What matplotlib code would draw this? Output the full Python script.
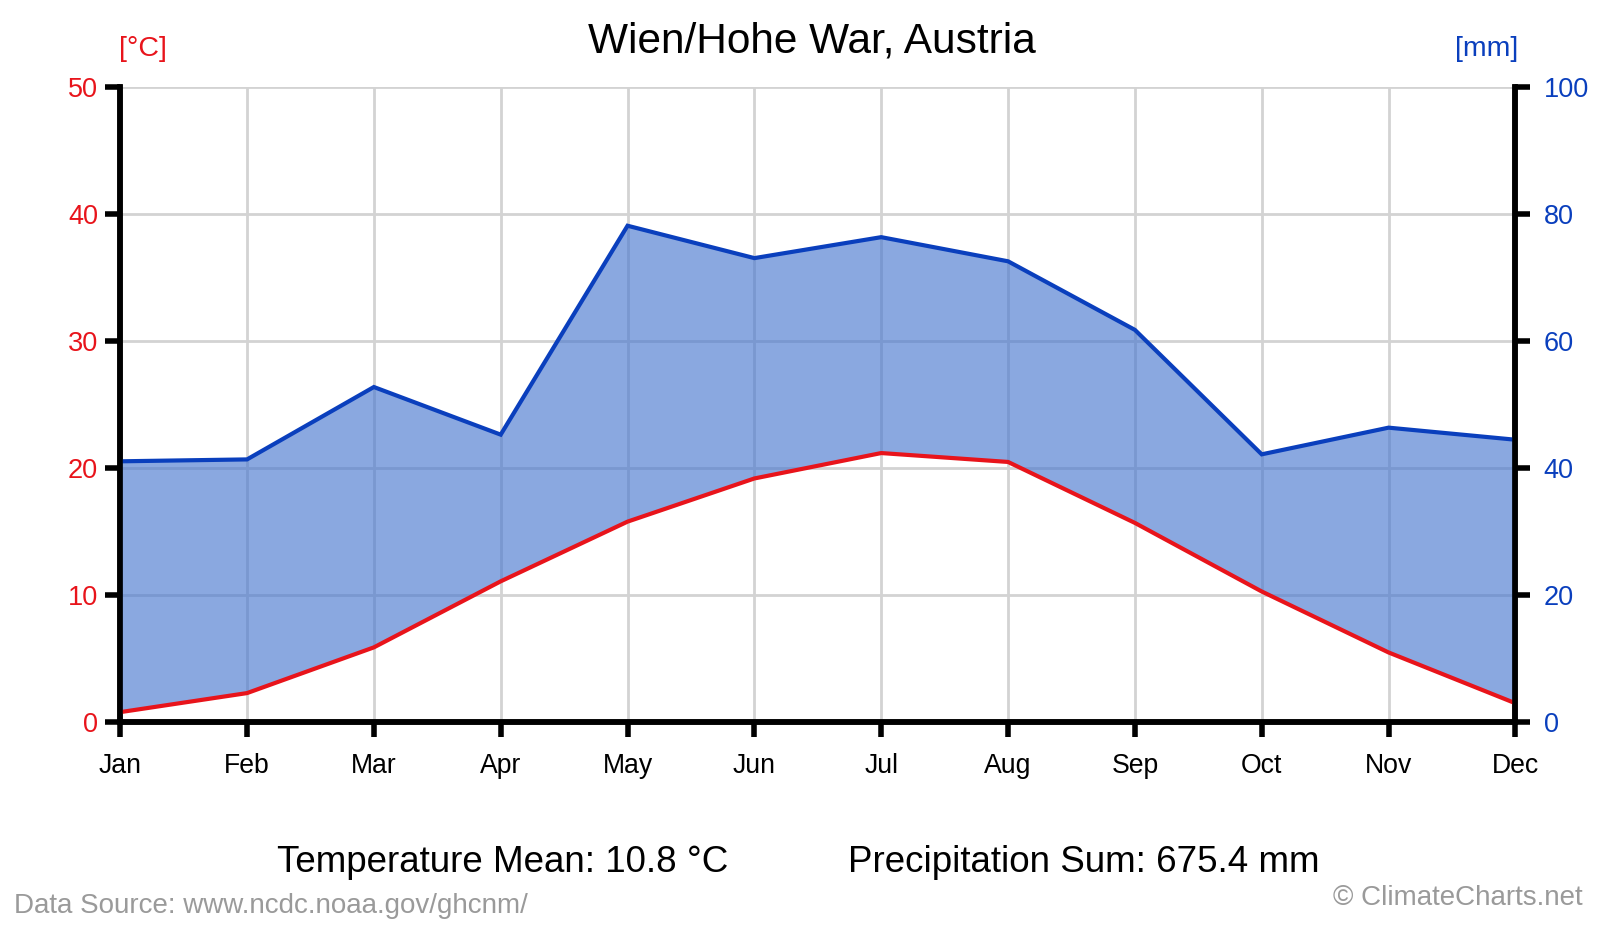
import matplotlib
matplotlib.use("Agg")
import matplotlib.pyplot as plt
import numpy as np

plt.rcParams['font.family'] = ['Liberation Sans', 'DejaVu Sans']

months = ["Jan", "Feb", "Mar", "Apr", "May", "Jun", "Jul", "Aug", "Sep", "Oct", "Nov", "Dec"]
temperature = [0.8, 2.3, 5.9, 11.1, 15.8, 19.2, 21.2, 20.5, 15.7, 10.3, 5.5, 1.5]
precipitation = [41.1, 41.4, 52.8, 45.3, 78.2, 73.1, 76.4, 72.6, 61.8, 42.2, 46.4, 44.5]
temp_ticks = [0, 10, 20, 30, 40, 50]
prec_ticks = [0, 20, 40, 60, 80, 100]
title = "Wien/Hohe War, Austria"
temp_mean_text = "Temperature Mean: 10.8 °C"
prec_sum_text = "Precipitation Sum: 675.4 mm"

RED = "#e8141b"
BLUE = "#0a3fbd"
FILL = (72/255, 119/255, 207/255, 0.64)
GRID = "#d3d3d3"

W, H = 1611, 930
fig = plt.figure(figsize=(W/100, H/100), dpi=100)
left, right, top, bottom = 120.2, 1515.4, 87.3, 722.3
ax = fig.add_axes([left/W, 1 - bottom/H, (right-left)/W, (bottom-top)/H])
ax2 = ax.twinx()

x = np.arange(len(months))
ax.set_xlim(0, len(months) - 1)
ax.set_ylim(0, 50)
ax2.set_ylim(0, 100)

ax.set_xticks(x)
ax.set_xticklabels(months)
ax.set_yticks(temp_ticks)
ax2.set_yticks(prec_ticks)

ax.grid(True, color=GRID, linewidth=2)
ax.set_axisbelow(True)

# fill between scaled temperature and precipitation (on precip axis)
t2 = [2 * t for t in temperature]
ax2.fill_between(x, t2, precipitation, color=FILL, linewidth=0, zorder=1)
ax2.plot(x, precipitation, color=BLUE, linewidth=3, zorder=3, solid_joinstyle='miter')
ax2.plot(x, t2, color=RED, linewidth=3, zorder=3, solid_joinstyle='miter')

for a in (ax, ax2):
    a.spines['top'].set_visible(False)
    for s in ('left', 'right', 'bottom'):
        a.spines[s].set_linewidth(4)
        a.spines[s].set_color('black')
        a.spines[s].set_zorder(5)

ax.tick_params(axis='y', labelsize=19.5, length=11, width=4, pad=5, direction='out', color='black')
ax.tick_params(axis='x', labelsize=19.2, length=11, width=4, pad=11, colors='black')
ax2.tick_params(axis='y', labelsize=19.5, length=11, width=4, pad=9.5, direction='out', color='black')
for lab in ax.get_yticklabels():
    lab.set_color(RED)
for lab in ax2.get_yticklabels():
    lab.set_color(BLUE)

fig.text(812/W, 1 - 41/H, title, ha='center', va='center', fontsize=30.5, color='black')
fig.text(143/W, 1 - 49/H, "[°C]", ha='center', va='center', fontsize=20.5, color=RED)
fig.text(1487/W, 1 - 49/H, "[mm]", ha='center', va='center', fontsize=20.5, color=BLUE)
fig.text(503/W, 1 - 862/H, temp_mean_text, ha='center', va='center', fontsize=26.5, color='black')
fig.text(1084/W, 1 - 862/H, prec_sum_text, ha='center', va='center', fontsize=26.5, color='black')
fig.text(14/W, 1 - 906/H, "Data Source: www.ncdc.noaa.gov/ghcnm/", ha='left', va='center', fontsize=20, color='#9a9a9a')
fig.text(1583/W, 1 - 898/H, "© ClimateCharts.net", ha='right', va='center', fontsize=20, color='#9a9a9a')

fig.savefig("out.png", dpi=100, facecolor='white')
